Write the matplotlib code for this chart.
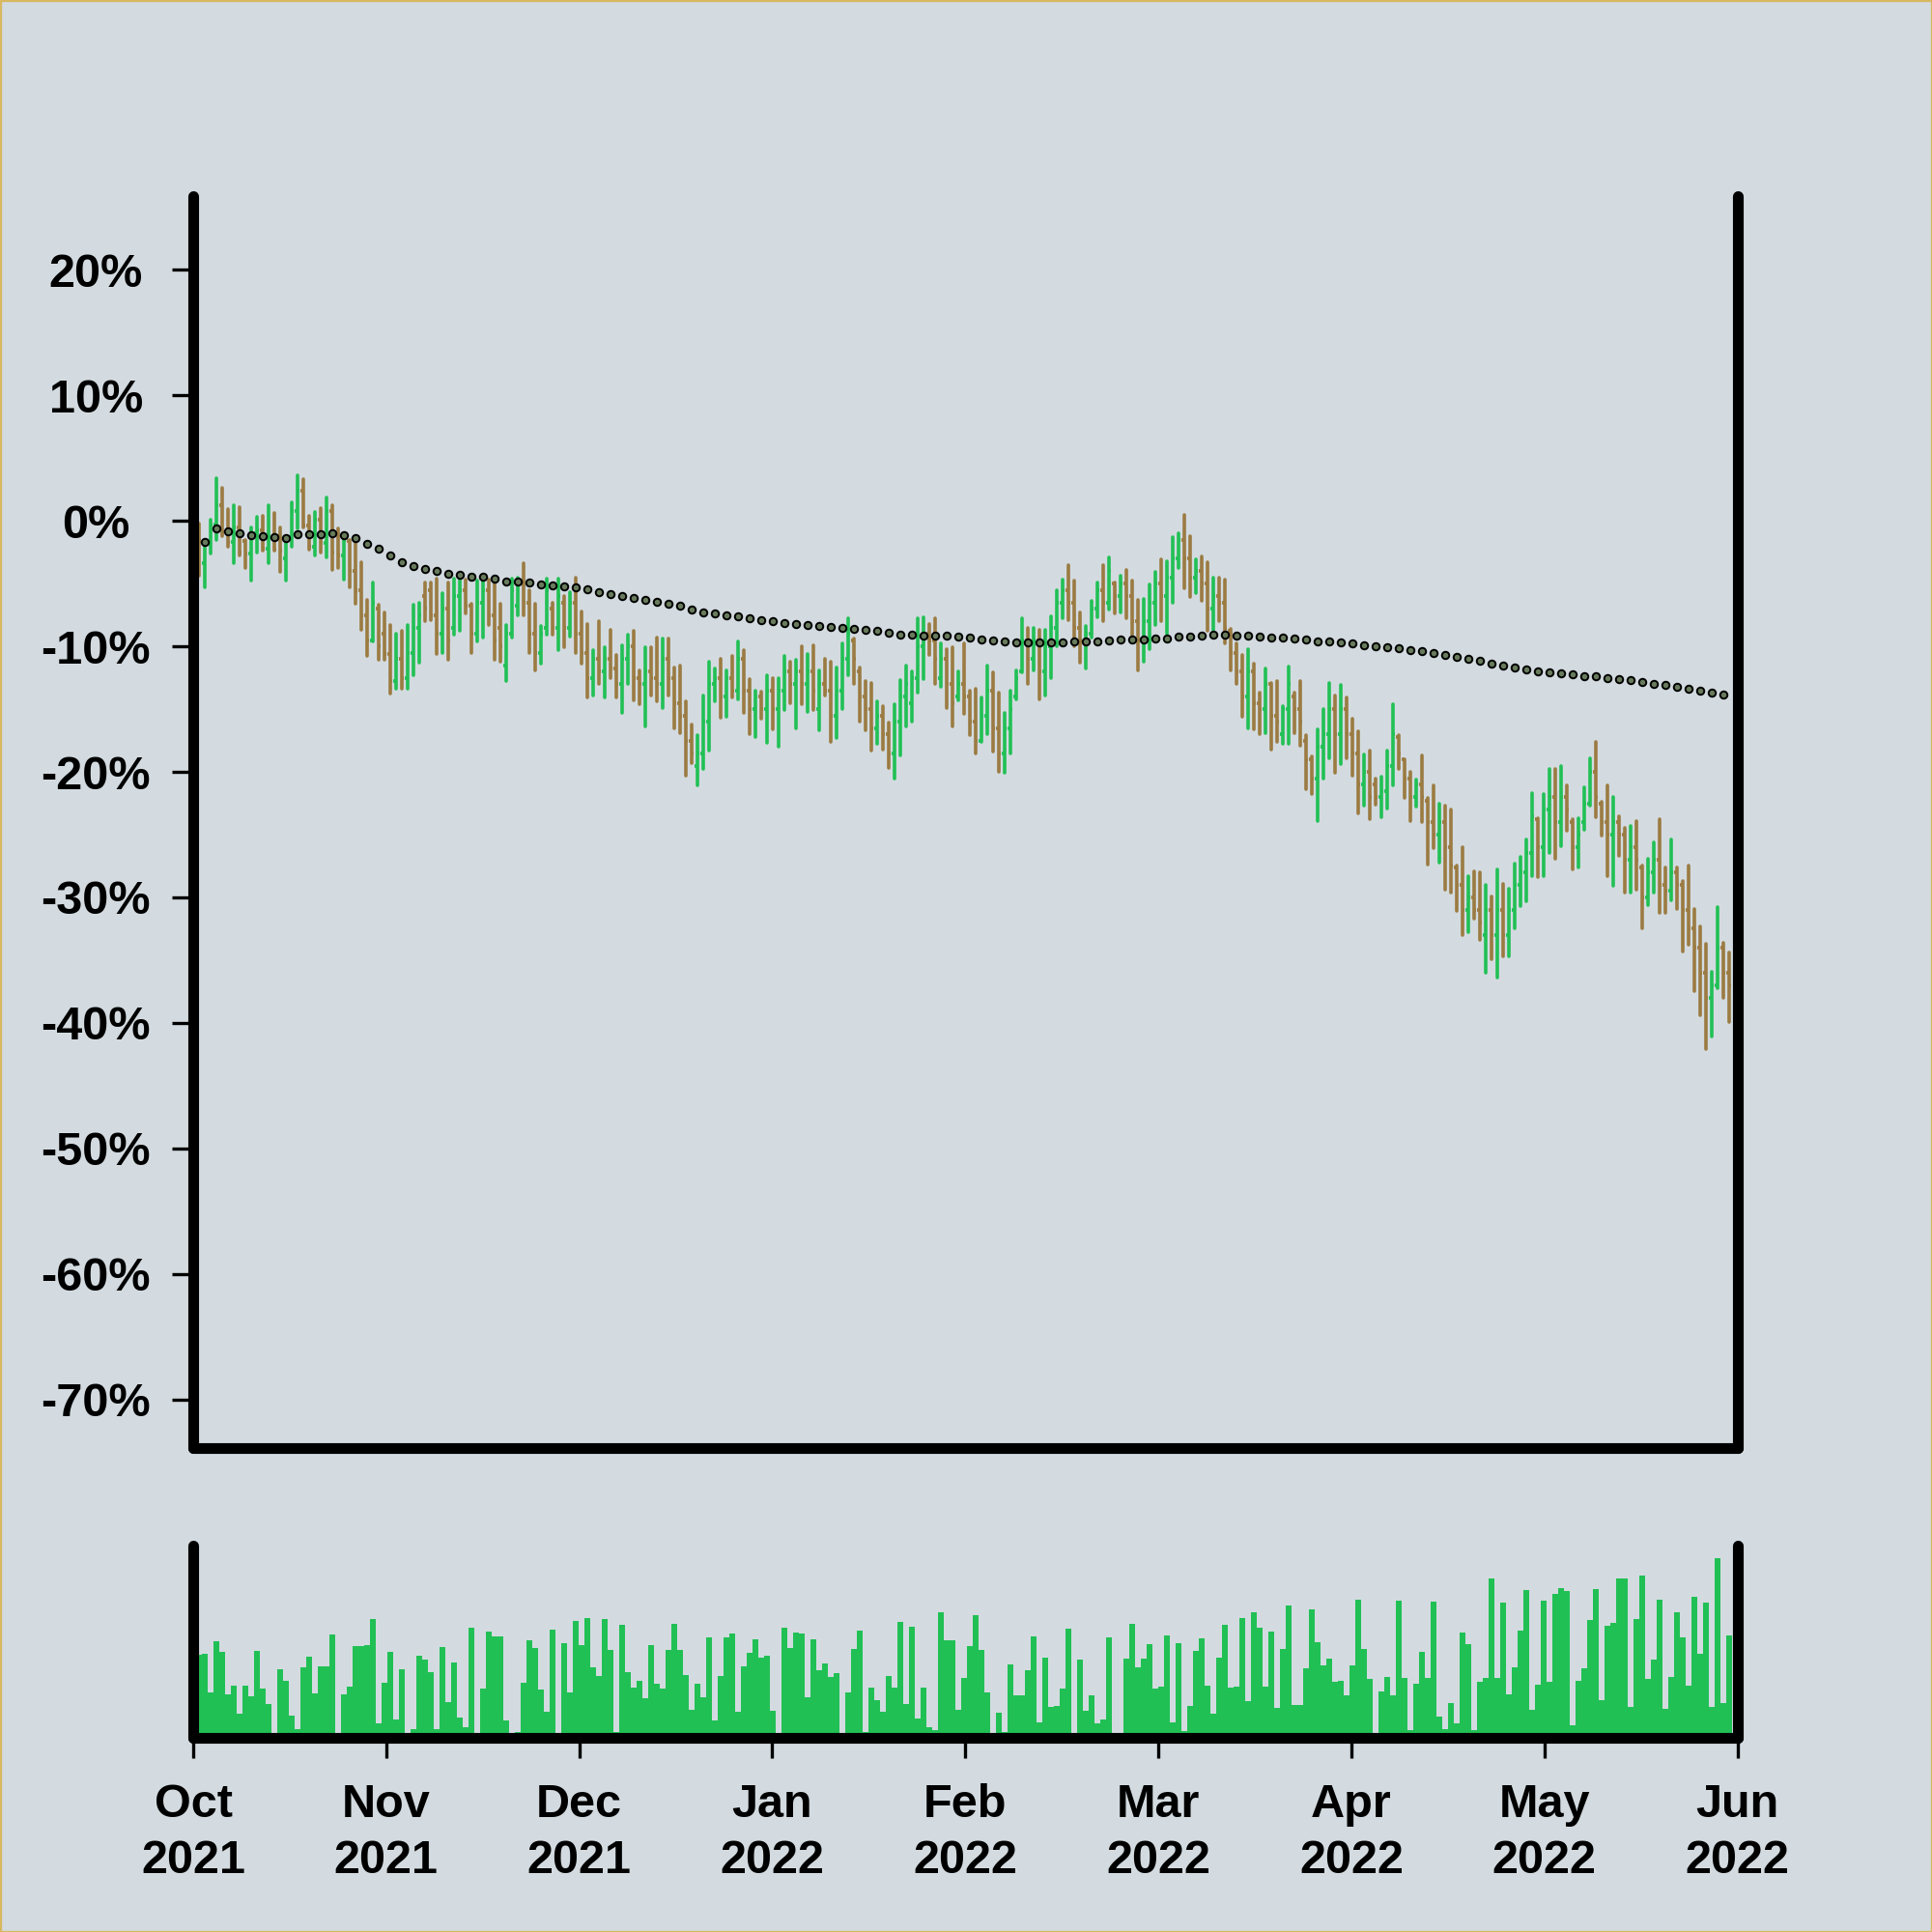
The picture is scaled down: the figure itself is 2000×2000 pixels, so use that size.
import numpy as np
import pandas as pd
import matplotlib.pyplot as plt
from matplotlib.patches import Rectangle

# month tick labels (evenly spaced along the bar index axis)
months = ["Oct\n2021", "Nov\n2021", "Dec\n2021", "Jan\n2022", "Feb\n2022",
          "Mar\n2022", "Apr\n2022", "May\n2022", "Jun\n2022"]

# OHLC values in % change, one per bar
opens = [-0.5, -3.4, -1.8, -0.3, 1.2, -0.9, -1.7, -0.5, -1.6, -2.6,
         -1.0, -0.8, -2.2, -1.3, -1.2, -3.0, -1.3, 0.8, 2.4, -0.4,
         -2.1, 0.1, -1.8, 0.8, -1.0, -2.8, -1.6, -4.0, -5.5, -7.5,
         -9.5, -7.0, -9.0, -10.6, -12.8, -11.0, -12.5, -10.5, -8.5, -6.0,
         -5.5, -7.5, -9.0, -7.0, -8.5, -6.0, -5.5, -6.8, -9.0, -6.5,
         -5.5, -7.5, -8.5, -11.5, -9.0, -6.8, -5.0, -6.5, -9.0, -10.5,
         -8.5, -7.0, -8.5, -6.5, -8.5, -6.5, -9.0, -10.5, -12.5, -11.0,
         -12.0, -11.0, -11.8, -13.0, -11.0, -10.0, -12.5, -13.0, -12.0, -12.5,
         -13.0, -11.0, -12.5, -14.5, -15.5, -17.5, -19.5, -18.5, -16.0, -13.0,
         -12.5, -14.0, -12.5, -13.5, -11.0, -13.5, -15.0, -14.0, -15.0, -13.5,
         -15.0, -13.5, -12.0, -13.0, -12.0, -13.0, -12.0, -15.0, -13.0, -13.5,
         -15.5, -13.5, -11.0, -9.5, -12.0, -14.0, -15.0, -16.5, -15.5, -17.0,
         -18.5, -16.0, -14.0, -14.5, -12.5, -10.0, -9.0, -9.5, -12.5, -11.0,
         -13.0, -14.0, -13.0, -14.0, -16.0, -17.5, -15.5, -13.5, -16.5, -18.5,
         -16.5, -14.0, -12.0, -9.5, -11.0, -9.5, -12.0, -10.0, -8.5, -6.5,
         -5.5, -6.5, -8.5, -9.5, -9.0, -7.0, -5.5, -6.5, -5.0, -6.0,
         -5.0, -6.0, -8.0, -9.5, -8.0, -6.5, -5.0, -6.0, -4.5, -3.0,
         -1.5, -3.0, -4.5, -4.0, -5.0, -7.0, -6.0, -6.5, -8.8, -10.5,
         -12.0, -14.0, -12.0, -14.5, -15.0, -13.0, -15.5, -17.0, -15.0, -14.0,
         -15.0, -17.5, -19.0, -20.5, -18.0, -17.0, -15.0, -17.0, -15.0, -17.0,
         -18.5, -21.0, -20.0, -21.0, -22.0, -21.5, -19.5, -17.2, -19.0, -20.5,
         -22.0, -21.0, -22.3, -24.0, -25.0, -24.0, -26.0, -27.6, -29.0, -31.0,
         -30.0, -31.0, -33.0, -31.0, -33.0, -31.0, -33.0, -31.0, -29.0, -28.0,
         -26.5, -23.8, -26.0, -23.0, -22.0, -24.0, -22.0, -24.0, -26.0, -24.0,
         -22.5, -20.0, -22.5, -24.0, -25.0, -24.0, -25.0, -27.0, -26.0, -27.6,
         -30.0, -28.0, -27.0, -29.0, -29.5, -28.0, -29.0, -31.0, -32.5, -34.0,
         -36.0, -38.0, -37.0, -34.0, -36.0]
highs = [-0.2, -1.6, 0.05, 3.4, 2.6, 0.95, 1.2, 1.1, -1.5, -0.5,
         0.3, 0.4, 1.2, 0.6, -0.5, -1.2, 1.5, 3.6, 3.3, 0.4,
         0.7, 1.0, 1.85, 1.2, -0.6, -1.1, -1.5, -1.7, -3.3, -6.3,
         -4.9, -6.7, -7.3, -8.3, -9.0, -8.8, -8.3, -6.7, -6.5, -4.9,
         -4.9, -4.6, -5.8, -4.9, -4.6, -4.4, -4.7, -6.6, -4.8, -4.4,
         -4.7, -4.7, -6.6, -8.3, -4.6, -4.5, -3.4, -5.5, -6.6, -8.4,
         -4.6, -6.5, -4.6, -6.0, -5.7, -4.5, -7.2, -8.2, -10.3, -8.0,
         -10.1, -8.7, -10.7, -9.9, -9.1, -8.8, -11.9, -10.1, -10.1, -9.3,
         -9.4, -9.4, -11.7, -11.5, -14.4, -16.2, -17.1, -13.9, -11.2, -11.8,
         -11.0, -11.9, -10.8, -9.6, -10.3, -12.6, -13.5, -13.6, -12.3, -12.5,
         -12.5, -10.8, -11.2, -11.1, -10.0, -10.6, -9.9, -11.9, -11.0, -11.2,
         -11.7, -9.8, -7.8, -9.4, -11.7, -12.8, -12.9, -14.4, -14.8, -16.1,
         -14.6, -12.7, -11.5, -12.0, -7.8, -7.7, -8.2, -7.8, -9.8, -10.2,
         -10.1, -12.0, -9.8, -13.5, -13.4, -14.1, -11.5, -12.1, -13.7, -15.3,
         -13.5, -11.9, -7.8, -8.5, -8.5, -8.7, -8.7, -7.6, -5.5, -4.7,
         -3.5, -4.8, -7.3, -8.4, -6.4, -4.9, -3.5, -2.95, -4.95, -4.4,
         -3.9, -4.8, -6.3, -6.2, -5.1, -4.1, -3.1, -3.2, -1.3, -0.98,
         0.49, -1.2, -3.1, -2.85, -3.3, -4.5, -4.5, -4.7, -8.6, -9.8,
         -10.7, -10.2, -11.4, -13.7, -11.8, -12.9, -12.8, -14.8, -11.6, -13.7,
         -12.8, -17.1, -18.8, -16.6, -15.0, -12.9, -13.9, -13.1, -14.1, -15.8,
         -16.8, -18.6, -18.3, -20.5, -20.4, -18.3, -14.6, -17.1, -19.0, -20.0,
         -20.6, -18.7, -22.1, -21.1, -22.5, -22.7, -23.0, -27.5, -26.0, -28.3,
         -27.9, -28.0, -29.0, -29.9, -27.8, -28.9, -29.3, -27.3, -26.8, -25.4,
         -21.7, -23.7, -21.8, -19.8, -19.8, -19.5, -21.1, -23.8, -23.7, -21.2,
         -18.9, -17.6, -22.4, -21.1, -22.0, -23.5, -24.5, -24.3, -23.9, -27.5,
         -26.9, -25.6, -23.8, -27.6, -25.4, -27.6, -28.7, -27.5, -30.9, -32.3,
         -33.7, -35.9, -30.8, -33.6, -34.4]
lows = [-4.4, -5.3, -2.6, -1.5, -1.2, -2.1, -3.4, -2.8, -3.8, -4.8,
        -2.5, -2.4, -3.4, -2.4, -4.1, -4.8, -2.1, -0.6, -0.5, -2.3,
        -2.8, -2.5, -2.9, -3.9, -3.8, -4.7, -5.3, -6.6, -8.7, -10.8,
        -9.6, -11.1, -11.1, -13.8, -13.4, -13.4, -13.4, -12.3, -11.3, -8.0,
        -7.9, -10.6, -10.5, -11.1, -9.05, -8.8, -7.4, -10.5, -9.6, -9.3,
        -8.3, -11.1, -11.2, -12.8, -9.3, -7.5, -7.5, -10.5, -11.9, -11.4,
        -9.05, -9.05, -10.3, -10.1, -9.2, -10.5, -11.4, -14.1, -13.9, -13.0,
        -14.1, -12.5, -14.1, -15.3, -13.0, -14.3, -14.6, -16.4, -13.9, -14.4,
        -14.9, -13.9, -16.5, -16.9, -20.3, -19.3, -21.1, -19.8, -18.3, -14.4,
        -15.7, -15.6, -14.1, -14.2, -15.3, -17.0, -17.2, -15.8, -17.7, -16.6,
        -18.0, -15.1, -14.5, -16.5, -14.6, -15.2, -15.1, -16.7, -13.9, -17.6,
        -17.3, -15.0, -12.3, -13.0, -16.0, -16.7, -18.3, -17.8, -18.2, -19.7,
        -20.5, -18.7, -16.4, -16.0, -13.7, -12.6, -10.7, -13.0, -13.2, -14.9,
        -16.4, -14.3, -15.4, -17.05, -18.5, -17.6, -17.0, -18.4, -20.0, -20.1,
        -18.5, -14.2, -12.1, -13.0, -11.9, -14.2, -13.9, -12.5, -10.0, -7.8,
        -7.9, -10.0, -11.3, -11.8, -9.3, -7.7, -8.0, -7.1, -7.4, -7.3,
        -7.8, -9.3, -11.9, -11.2, -10.2, -8.3, -8.0, -9.0, -6.5, -3.8,
        -5.4, -6.1, -5.8, -6.4, -8.8, -8.7, -8.0, -9.8, -11.9, -13.0,
        -15.6, -16.5, -16.6, -17.0, -16.9, -18.2, -17.6, -17.8, -17.8, -16.9,
        -17.9, -21.4, -21.8, -23.9, -20.5, -18.9, -20.1, -19.4, -18.9, -20.3,
        -23.3, -22.7, -23.8, -22.6, -23.6, -22.9, -21.1, -19.8, -22.1, -23.9,
        -22.8, -24.0, -27.4, -26.1, -27.2, -29.4, -29.6, -31.1, -33.0, -32.8,
        -31.7, -33.4, -36.0, -34.9, -36.4, -34.7, -34.7, -32.5, -30.7, -30.3,
        -28.3, -28.4, -28.3, -26.5, -26.9, -25.9, -24.7, -27.8, -27.6, -24.6,
        -22.7, -23.6, -25.1, -28.3, -29.1, -26.7, -29.6, -29.6, -29.4, -32.5,
        -30.6, -29.6, -31.2, -31.2, -30.2, -30.9, -34.3, -33.8, -37.5, -39.4,
        -42.1, -41.1, -37.2, -38.0, -39.9]
closes = [-1.6, -1.8, -0.3, 1.2, -0.9, -1.7, -0.5, -2.5, -2.6, -1.0,
          -0.8, -2.2, -1.3, -2.3, -2.4, -1.3, 0.8, 2.4, -0.4, -2.1,
          0.1, -1.8, 0.8, -2.5, -2.8, -1.5, -4.0, -5.5, -7.5, -9.5,
          -6.5, -10.0, -10.6, -12.8, -11.0, -12.5, -10.5, -8.5, -7.5, -7.0,
          -7.5, -9.0, -7.0, -9.5, -6.0, -5.5, -6.8, -9.0, -6.5, -5.5,
          -7.5, -9.5, -10.0, -9.0, -5.5, -5.0, -6.5, -9.0, -10.5, -9.0,
          -5.5, -8.5, -6.0, -8.5, -6.5, -9.0, -10.5, -12.5, -11.0, -12.0,
          -11.0, -11.8, -13.0, -11.0, -10.0, -12.5, -13.0, -12.0, -12.5, -13.0,
          -11.0, -12.5, -14.5, -15.5, -17.5, -18.5, -18.5, -16.0, -13.0, -12.5,
          -14.0, -12.5, -13.5, -11.0, -13.5, -15.0, -14.0, -15.0, -13.5, -15.0,
          -13.5, -12.0, -13.0, -12.0, -13.0, -12.0, -13.5, -13.0, -13.5, -15.5,
          -13.5, -11.0, -9.0, -11.0, -14.0, -15.0, -16.5, -15.5, -17.0, -18.5,
          -16.0, -14.0, -13.0, -12.5, -10.0, -9.0, -9.5, -11.0, -11.0, -13.0,
          -14.5, -13.0, -14.0, -16.0, -17.5, -15.5, -13.5, -16.5, -18.5, -16.5,
          -15.0, -12.5, -9.5, -11.0, -9.5, -12.0, -10.0, -8.5, -6.5, -5.5,
          -6.5, -8.5, -9.5, -9.0, -7.0, -5.5, -6.5, -4.0, -6.0, -5.0,
          -6.0, -8.0, -9.5, -8.0, -6.5, -5.0, -6.0, -4.5, -3.0, -1.5,
          -3.0, -4.5, -4.0, -5.0, -7.0, -6.0, -6.5, -8.5, -10.5, -12.0,
          -14.0, -12.0, -14.5, -15.0, -13.0, -15.5, -16.0, -15.0, -13.0, -15.0,
          -16.0, -19.0, -20.5, -18.0, -17.0, -15.0, -17.0, -15.0, -17.0, -18.5,
          -21.0, -20.0, -22.0, -22.0, -21.5, -19.5, -17.0, -18.5, -20.5, -22.0,
          -21.0, -22.0, -24.0, -25.0, -24.0, -26.0, -27.5, -29.0, -31.0, -30.0,
          -31.0, -32.0, -31.0, -33.0, -31.0, -33.0, -31.0, -29.0, -28.0, -26.5,
          -23.5, -26.0, -23.0, -22.0, -24.0, -22.0, -23.0, -26.0, -25.0, -22.5,
          -20.0, -22.0, -24.0, -25.0, -24.0, -25.0, -27.0, -26.0, -27.0, -30.0,
          -28.0, -27.0, -29.0, -29.5, -28.0, -29.0, -31.0, -32.5, -34.0, -36.0,
          -38.0, -37.0, -34.0, -36.0, -37.0]
# traded volume, arbitrary units
volumes = [86, 87, 47, 100, 89, 45, 54, 25, 54, 43,
           90, 51, 35, 2, 71, 59, 23, 9, 73, 84,
           46, 74, 74, 107, 2, 45, 53, 95, 95, 96,
           123, 15, 57, 89, 19, 71, 2, 9, 85, 81,
           68, 9, 94, 37, 78, 21, 11, 114, 2, 51,
           110, 105, 105, 18, 2, 6, 57, 101, 93, 50,
           27, 112, 2, 98, 47, 121, 96, 124, 73, 64,
           123, 91, 6, 117, 68, 52, 59, 41, 96, 56,
           51, 91, 118, 91, 65, 29, 56, 42, 104, 18,
           64, 104, 108, 27, 74, 88, 102, 83, 85, 28,
           2, 114, 93, 109, 108, 42, 102, 70, 77, 63,
           67, 2, 47, 92, 111, 6, 52, 39, 27, 64,
           52, 120, 35, 115, 20, 52, 11, 8, 130, 101,
           101, 29, 62, 95, 127, 91, 47, 2, 26, 6,
           76, 44, 44, 70, 105, 16, 83, 32, 33, 51,
           113, 2, 81, 28, 44, 15, 19, 104, 2, 2,
           82, 118, 73, 82, 97, 51, 53, 106, 16, 98,
           7, 33, 90, 103, 54, 25, 83, 117, 52, 53,
           124, 38, 130, 114, 53, 110, 31, 92, 137, 34,
           34, 72, 133, 99, 75, 82, 58, 59, 44, 75,
           143, 92, 61, 2, 48, 63, 44, 142, 62, 8,
           56, 89, 62, 141, 22, 9, 36, 15, 109, 97,
           8, 58, 62, 165, 62, 140, 45, 73, 111, 153,
           29, 55, 142, 58, 149, 155, 152, 13, 59, 72,
           122, 154, 39, 116, 119, 165, 165, 32, 123, 168,
           61, 81, 143, 30, 63, 130, 104, 54, 146, 87,
           140, 32, 186, 36, 106]

bg = "#d3dbe0"
up_col = "#21c055"
dn_col = "#9b7b42"

plt.rcParams['font.family'] = ['Liberation Sans', 'DejaVu Sans']
plt.rcParams['font.weight'] = 'bold'

n = len(closes)
x = np.arange(n)
o = np.array(opens); h = np.array(highs); l = np.array(lows); c = np.array(closes)
cols = np.where(c >= o, up_col, dn_col)
ma = pd.Series(closes).expanding().mean()

fig = plt.figure(figsize=(10, 10), dpi=200, facecolor=bg)
ax = fig.add_axes([0.1, 0.2505, 0.79925, 0.648])
axv = fig.add_axes([0.1, 0.1005, 0.79925, 0.0995])
xmin, xmax = -0.95, 265.47

# price panel
ax.set_facecolor(bg)
ax.vlines(x, l, h, colors=cols, lw=1.3, capstyle='round')
ax.hlines(o, x - 0.45, x, colors=cols, lw=1.3)
ax.hlines(c, x, x + 0.45, colors=cols, lw=1.3)
ax.plot(x, ma, ls='none', marker='o', ms=2.7, mfc='#687b5c', mec='black',
        mew=0.7, markevery=(1, 2), zorder=3)
ax.set_xlim(xmin, xmax)
ax.set_ylim(-73.85, 25.85)
yt = list(range(-70, 30, 10))
ax.set_yticks(yt)
ax.set_yticklabels([f"{v}%" for v in yt], ha='center')
ax.set_xticks([])
ax.tick_params(axis='y', length=8, width=1.2, pad=28.3, labelsize=17.5)

# volume panel
axv.set_facecolor(bg)
axv.bar(x, volumes, width=1.0, color=up_col, linewidth=0)
axv.set_xlim(xmin, xmax)
axv.set_ylim(0, 199)
axv.set_yticks([])
axv.set_xticks(np.linspace(xmin, xmax, 9))
axv.set_xticklabels(months, linespacing=1.38)
axv.tick_params(axis='x', length=7.5, width=1.2, pad=9.4, labelsize=17.5)

for a in (ax, axv):
    a.spines['top'].set_visible(False)
    for s in ('left', 'right', 'bottom'):
        a.spines[s].set_linewidth(4)
        a.spines[s].set_capstyle('round')

fig.patches.append(Rectangle((0, 0), 1, 1, transform=fig.transFigure,
                             fill=False, ec='#d8b860', lw=1.2))

fig.savefig('out.png', dpi=200, facecolor=bg)
